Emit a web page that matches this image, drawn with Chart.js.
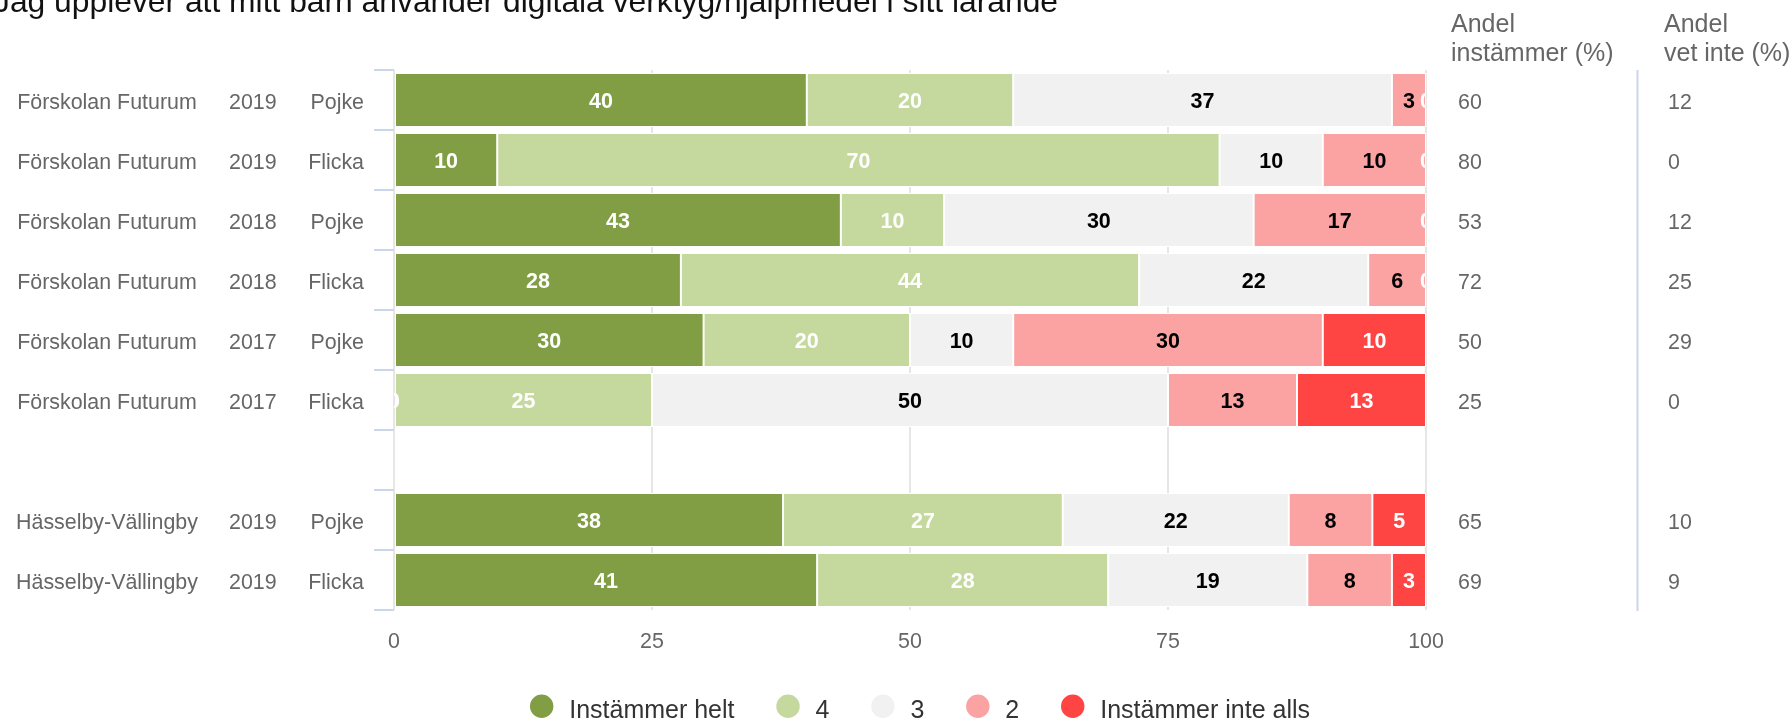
<!DOCTYPE html>
<html>
<head>
<meta charset="utf-8">
<title>Digitala verktyg</title>
<script src="https://cdn.jsdelivr.net/npm/chart.js@4.4.1/dist/chart.umd.min.js"></script>
<style>
  body { margin: 0; background: #fff; }
  #wrap { width: 1789px; height: 720px; }
</style>
</head>
<body>
<div id="wrap"><canvas id="chart" width="1789" height="720"></canvas></div>
<script>
var FONT = '"Liberation Sans", Arial, Helvetica, sans-serif';

var titleText = "Jag upplever att mitt barn använder digitala verktyg/hjälpmedel i sitt lärande";

// rows, top to bottom (empty row = spacer between the two groups)
var schools = ["Förskolan Futurum", "Förskolan Futurum", "Förskolan Futurum", "Förskolan Futurum",
               "Förskolan Futurum", "Förskolan Futurum", "", "Hässelby-Vällingby", "Hässelby-Vällingby"];
var years = ["2019", "2019", "2018", "2018", "2017", "2017", "", "2019", "2019"];
var genders = ["Pojke", "Flicka", "Pojke", "Flicka", "Pojke", "Flicka", "", "Pojke", "Flicka"];

var seriesNames = ["Instämmer helt", "4", "3", "2", "Instämmer inte alls"];
var seriesColors = ["#829e44", "#c5d89d", "#f1f1f1", "#fba3a3", "#ff4444"];
var labelColors = ["#ffffff", "#ffffff", "#000000", "#000000", "#ffffff"];

var helt = [40, 10, 43.3, 27.8, 30, 0, null, 37.7, 41];
var fyra = [20, 70, 10, 44.4, 20, 25, null, 27.1, 28.2];
var tre = [36.7, 10, 30, 22.2, 10, 50, null, 21.9, 19.3];
var tva = [3.3, 10, 16.7, 5.6, 30, 12.5, null, 8.1, 8.2];
var inteAlls = [0, 0, 0, 0, 10, 12.5, null, 5.2, 3.3];

var andelInstammer = ["60", "80", "53", "72", "50", "25", "", "65", "69"];
var andelVetInte = ["12", "0", "12", "25", "29", "0", "", "10", "9"];

var xTicks = [0, 25, 50, 75, 100];

var seriesData = [helt, fyra, tre, tva, inteAlls];

var datasets = seriesData.map(function (d, i) {
    return {
        label: seriesNames[i],
        data: d,
        backgroundColor: seriesColors[i],
        borderColor: "#ffffff",
        borderWidth: 1,
        borderSkipped: false,
        barPercentage: 1,
        categoryPercentage: 0.9
    };
});

// numbers inside the segments, clipped to the plot like the original
var segmentLabels = {
    id: "segmentLabels",
    afterDatasetsDraw: function (chart) {
        var ctx = chart.ctx, a = chart.chartArea;
        ctx.save();
        ctx.beginPath();
        ctx.rect(a.left, a.top, a.right - a.left, a.bottom - a.top);
        ctx.clip();
        ctx.font = "bold 21.5px " + FONT;
        ctx.textAlign = "center";
        ctx.textBaseline = "alphabetic";
        chart.data.datasets.forEach(function (ds, di) {
            chart.getDatasetMeta(di).data.forEach(function (bar, i) {
                var v = ds.data[i];
                if (v === null) return;
                var p = bar.getProps(["x", "y", "base"], true);
                ctx.fillStyle = labelColors[di];
                ctx.fillText(String(Math.round(v)), (p.x + p.base) / 2, p.y + 8);
            });
        });
        ctx.restore();
    }
};

// category columns on the left, share columns on the right, title, legend
var extras = {
    id: "extras",
    afterDraw: function (chart) {
        var ctx = chart.ctx, y = chart.scales.y, a = chart.chartArea;
        ctx.save();

        ctx.font = "31.8px " + FONT;
        ctx.fillStyle = "#111";
        ctx.textAlign = "left";
        ctx.fillText(titleText, -6, 12);

        ctx.font = "21.4px " + FONT;
        ctx.fillStyle = "#666";
        schools.forEach(function (s, i) {
            var py = y.getPixelForValue(i) + 9;
            ctx.textAlign = "center";
            ctx.fillText(s, 107, py);
            ctx.textAlign = "left";
            ctx.fillText(years[i], 229, py);
            ctx.fillText(andelInstammer[i], 1458, py);
            ctx.fillText(andelVetInte[i], 1668, py);
            ctx.textAlign = "right";
            ctx.fillText(genders[i], 364, py);
        });

        ctx.font = "25px " + FONT;
        ctx.textAlign = "left";
        ctx.fillText("Andel", 1451, 32);
        ctx.fillText("instämmer (%)", 1451, 61);
        ctx.fillText("Andel", 1664, 32);
        ctx.fillText("vet inte (%)", 1664, 61);

        ctx.strokeStyle = "#ccd6eb";
        ctx.lineWidth = 2;
        ctx.beginPath();
        ctx.moveTo(1637.5, a.top);
        ctx.lineTo(1637.5, a.bottom + 1);
        ctx.stroke();

        // legend
        ctx.font = "25px " + FONT;
        var r = 11.7, gap = 27.5, itemGap = 53.5;
        var widths = seriesNames.map(function (n) { return ctx.measureText(n).width; });
        var total = 0;
        widths.forEach(function (w, i) { total += r + gap + w + (i < widths.length - 1 ? itemGap - r : 0); });
        var cx = 920 - total / 2 + r;
        seriesNames.forEach(function (n, i) {
            ctx.fillStyle = seriesColors[i];
            ctx.beginPath();
            ctx.arc(cx, 706.3, r, 0, Math.PI * 2);
            ctx.fill();
            ctx.fillStyle = "#333";
            ctx.fillText(n, cx + gap, 718);
            cx += gap + widths[i] + itemGap;
        });
        ctx.restore();
    }
};

new Chart(document.getElementById("chart"), {
    type: "bar",
    data: {
        labels: schools.map(function (s, i) { return (s + " " + years[i] + " " + genders[i]).trim(); }),
        datasets: datasets
    },
    options: {
        indexAxis: "y",
        responsive: false,
        animation: false,
        layout: { padding: { left: 0, right: 363, top: 70, bottom: 0 } },
        plugins: {
            legend: { display: false },
            tooltip: { enabled: false },
            title: { display: false }
        },
        scales: {
            x: {
                stacked: true,
                min: 0,
                max: 100,
                afterBuildTicks: function (s) {
                    s.ticks = xTicks.map(function (v) { return { value: v }; });
                },
                afterFit: function (s) { s.height = 110; },
                grid: { color: "#e6e6e6", lineWidth: 2, drawTicks: false },
                border: { display: false },
                ticks: { padding: 19, color: "#666", font: { family: FONT, size: 21.4 } }
            },
            y: {
                stacked: true,
                afterFit: function (s) { s.width = 394; },
                grid: {
                    display: true,
                    drawOnChartArea: false,
                    drawTicks: true,
                    tickLength: 20,
                    color: "#ccd6eb",
                    lineWidth: 2,
                    offset: true
                },
                border: { display: false },
                ticks: { display: false }
            }
        }
    },
    plugins: [segmentLabels, extras]
});
</script>
</body>
</html>
